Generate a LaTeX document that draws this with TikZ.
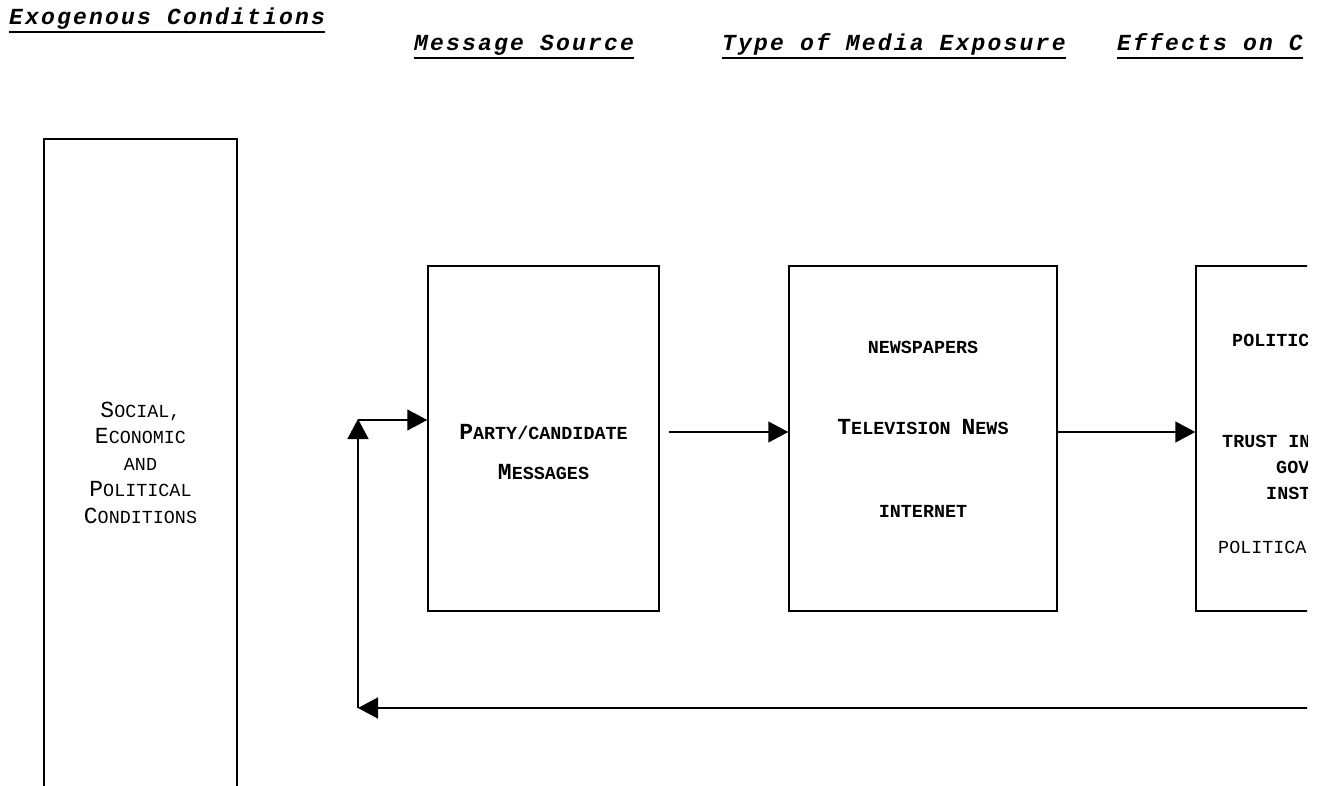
\documentclass[tikz,border=0pt]{standalone}
\usepackage{fontspec}
\usetikzlibrary{arrows.meta}
\newfontfamily\courfont{Liberation Mono}
\newfontfamily\hdrfont[LetterSpace=9.6]{Liberation Mono}
\newcommand\smc[1]{{\fontsize{18.4}{26.4}\selectfont #1}}
\begin{document}
\begin{tikzpicture}[x=1pt,y=-1pt,
  hdr/.style={font=\hdrfont\bfseries\itshape\fontsize{23}{23}\selectfont, anchor=base west, inner sep=0pt},
  uline/.style={line width=2.6pt},
  boxnode/.style={draw, line width=1.5pt, inner sep=0pt},
  btxt/.style={font=\courfont\bfseries\fontsize{23}{26.4}\selectfont, anchor=base, inner sep=0pt},
  ctxt/.style={font=\courfont\bfseries\fontsize{23}{26.4}\selectfont, anchor=base west, inner sep=0pt},
  rtxt/.style={font=\courfont\fontsize{23}{26.4}\selectfont, anchor=base west, inner sep=0pt},
  arr/.style={line width=1.5pt, -{Triangle[length=20pt,width=21pt]}}
]
\useasboundingbox (0,0) rectangle (1326,786);
\clip (0,0) rectangle (1307,786);
% headers
\node[hdr] (h1) at (9,25) {Exogenous Conditions};
\node[hdr] (h2) at (414,51) {Message Source};
\node[hdr] (h3) at (722,51) {Type of Media Exposure};
\node[hdr] (h4) at (1117,51) {Effects on C};
\foreach \h in {h1,h2,h3,h4}
  \draw[uline] ([yshift=-7pt]\h.base west) -- ([yshift=-7pt]\h.base east);
% exogenous box
\node[boxnode, minimum width=193pt, minimum height=647.5pt, align=center,
      font=\courfont\fontsize{23}{26.4}\selectfont] (ext) at (140.5,462.75)
  {S\smc{OCIAL,}\\E\smc{CONOMIC}\\\smc{AND}\\P\smc{OLITICAL}\\C\smc{ONDITIONS}};
% boxes
\node[boxnode, minimum width=231pt, minimum height=345pt] (box1) at (543.5,438.5) {};
\node[boxnode, minimum width=268pt, minimum height=345pt] (box2) at (923,438.5) {};
\node[boxnode, minimum width=268pt, minimum height=345pt] (box3) at (1330,438.5) {};
% box texts
\node[btxt] (m1) at (543.5,439) {P\smc{ARTY/CANDIDATE}};
\node[btxt] (m2) at (543.5,479) {M\smc{ESSAGES}};
\node[btxt] (t1) at (923,354) {\smc{NEWSPAPERS}};
\node[btxt] (t2) at (923,435) {T\smc{ELEVISION }N\smc{EWS}};
\node[btxt] (t3) at (923,517) {\smc{INTERNET}};
\node[ctxt] (e1) at (1232,347) {\smc{POLITIC}};
\node[ctxt] (e2) at (1222,447) {\smc{TRUST IN}};
\node[ctxt] (e3) at (1276,473) {\smc{GOV}};
\node[ctxt] (e4) at (1266,499) {\smc{INST}};
\node[rtxt] (e5) at (1218,553) {\smc{POLITICAL}};
% arrows
\draw[arr] ([shift={(9pt,6.5pt)}]box1.east) -- ([yshift=6.5pt]box2.west);
\draw[arr] ([yshift=6.5pt]box2.east) -- ([yshift=6.5pt]box3.west);
\coordinate (fbR) at (1330,708);
\coordinate (fbL) at (358,708);
\coordinate (fbT) at (358,419);
\draw[arr] (fbR) -- (fbL);
\draw[arr] (fbL) -- (fbT);
\draw[arr] ([yshift=-1pt]fbT) -- ([yshift=-1pt]box1.west |- fbT);
\end{tikzpicture}
\end{document}
